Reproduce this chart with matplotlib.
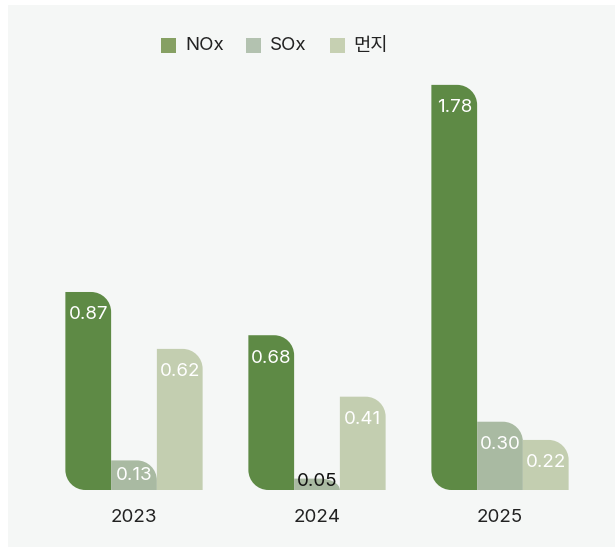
import matplotlib
matplotlib.use("Agg")
import matplotlib.pyplot as plt
from matplotlib.path import Path
from matplotlib.patches import PathPatch, Rectangle

plt.rcParams['font.family'] = ['Inter', 'Noto Sans CJK KR', 'DejaVu Sans']

years = ['2023', '2024', '2025']
series_names = ['NOx', 'SOx', '먼지']
nox = [0.87, 0.68, 1.78]
sox = [0.13, 0.05, 0.30]
dust = [0.62, 0.41, 0.22]
series_values = [nox, sox, dust]

bar_colors = ['#5e8a45', '#a9baa2', '#c3ceb0']
legend_colors = ['#86a063', '#b3c2b0', '#c6d0b2']

W, H = 615, 550
fig = plt.figure(figsize=(W / 100, H / 100), dpi=100)
fig.patch.set_facecolor('white')
# background panel
fig.patches.append(Rectangle((8 / W, (H - 547) / H), (W - 8) / W, (547 - 5) / H,
                             transform=fig.transFigure, facecolor='#f5f7f6',
                             edgecolor='none', zorder=-5))

ax_left, ax_right = 42.5, 591.5
ax_base, ax_top = 490, 34.8
ax = fig.add_axes([ax_left / W, (H - ax_base) / H, (ax_right - ax_left) / W, (ax_base - ax_top) / H])
ax.set_zorder(2)
ax.set_facecolor('none')
ax.patch.set_alpha(0)
ax.set_xlim(-0.5, 2.5)
ax.set_ylim(0, 2.0)
for s in ax.spines.values():
    s.set_visible(False)
ax.set_yticks([])
ax.set_xticks(range(len(years)))
ax.set_xticklabels(years, fontsize=13.5, color='#222222')
ax.tick_params(axis='x', length=0, pad=13.5)

px_x = (ax_right - ax_left) / 3.0
px_y = (ax_base - ax_top) / 2.0

K = 0.5523


def leaf_bar(x0, width, h, r_px, round_bl):
    rx_top = min(r_px, width * px_x / 2) / px_x
    ry_top = min(r_px, h * px_y) / px_y
    x1 = x0 + width
    verts, codes = [], []
    if round_bl:
        rx = min(r_px, width * px_x / 2) / px_x
        ry = min(r_px, h * px_y / 2) / px_y
        verts += [(x0 + rx, 0)]
        codes += [Path.MOVETO]
    else:
        verts += [(x0, 0)]
        codes += [Path.MOVETO]
    verts += [(x1, 0), (x1, h - ry_top),
              (x1, h - ry_top + K * ry_top), (x1 - rx_top + K * rx_top, h), (x1 - rx_top, h),
              (x0, h)]
    codes += [Path.LINETO, Path.LINETO, Path.CURVE4, Path.CURVE4, Path.CURVE4, Path.LINETO]
    if round_bl:
        verts += [(x0, ry), (x0, ry - K * ry), (x0 + rx - K * rx, 0), (x0 + rx, 0)]
        codes += [Path.LINETO, Path.CURVE4, Path.CURVE4, Path.CURVE4]
    else:
        verts += [(x0, 0)]
        codes += [Path.LINETO]
    verts += [(0, 0)]
    codes += [Path.CLOSEPOLY]
    return Path(verts, codes)


bw = 0.25
for si, vals in enumerate(series_values):
    for i, v in enumerate(vals):
        x0 = i - 1.5 * bw + si * bw
        p = leaf_bar(x0, bw, v, 20, si == 0)
        ax.add_patch(PathPatch(p, facecolor=bar_colors[si], edgecolor='none', zorder=2))
        off = 23 / px_y
        if v * px_y < 20:
            ly = 8 / px_y
            col = '#111111'
        else:
            ly = max(v - off, 14 / px_y)
            col = 'white'
        ax.text(x0 + bw / 2, ly, f'{v:.2f}', ha='center', va='center',
                fontsize=13.5, color=col, zorder=3)

# legend
leg_sq_x = [161, 246, 330]
leg_txt_x = [185, 270, 353]
leg_y = 45
for sq, tx, name, c in zip(leg_sq_x, leg_txt_x, series_names, legend_colors):
    fig.patches.append(Rectangle((sq / W, (H - leg_y - 7.5) / H), 15 / W, 15 / H,
                                 transform=fig.transFigure, facecolor=c,
                                 edgecolor='none', zorder=3))
    fig.text(tx / W, (H - leg_y - 1) / H, name, ha='left', va='center',
             fontsize=13.5, color='#222222')

fig.savefig('out.png', dpi=100)
